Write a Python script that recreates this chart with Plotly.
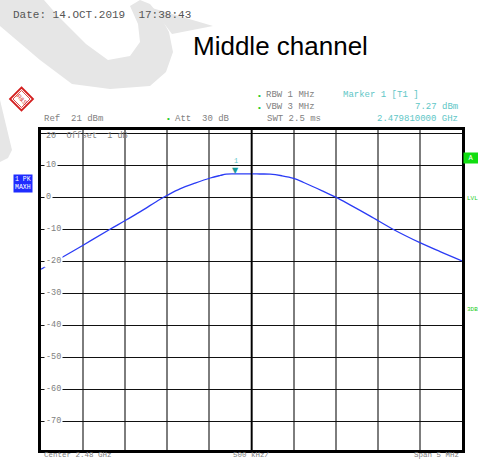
import plotly.graph_objects as go

# ---------------- data ----------------
freq_mhz = [2477.50, 2477.67, 2478.00, 2478.32, 2478.50, 2478.68, 2478.91, 2479.00,
            2479.15, 2479.33, 2479.51, 2479.63, 2479.70, 2479.81, 2480.00, 2480.10,
            2480.22, 2480.36, 2480.50, 2480.62, 2480.84, 2481.00, 2481.17, 2481.41,
            2481.68, 2482.00, 2482.24, 2482.50]
level_dbm = [-22.5, -20.0, -15.0, -10.0, -7.3, -4.5, -0.7, 0.6,
             2.6, 4.4, 6.0, 6.8, 7.2, 7.27, 7.27, 7.25,
             7.2, 6.7, 5.9, 4.6, 2.0, 0.0, -2.4, -5.9,
             -10.0, -14.2, -17.0, -19.9]
marker_freq = 2479.81
marker_level = 7.27
y_tick_vals = [20, 10, 0, -10, -20, -30, -40, -50, -60, -70]
y_tick_text = ["20", "10", "0", "-10", "-20", "-30", "-40", "-50", "-60", "-70"]
ref_level = 21
x_start, x_stop = 2477.5, 2482.5

# ---------------- layout helpers (pixel -> paper) ----------------
W, H = 478, 459
L, R, T, B = 41, 462, 130, 450


def px(x):
    return (x - L) / (R - L)


def py(y):
    return (B - y) / (B - T)


MONO = "Liberation Mono, Courier New, monospace"
GREY = "#808080"
CYAN = "#5ec6c6"
GREEN = "#22cc22"

fig = go.Figure()
fig.add_trace(go.Scatter(
    x=freq_mhz, y=level_dbm, mode="lines",
    line=dict(color="#2b3cf5", width=1.3, shape="spline", smoothing=1.0),
    hoverinfo="skip", showlegend=False))

annotations = []


def ann(text, x, y, size=9, color=GREY, xanchor="left", yanchor="middle",
        family=MONO, bgcolor=None, **kw):
    d = dict(text=text, x=px(x), y=py(y), xref="paper", yref="paper",
             showarrow=False, xanchor=xanchor, yanchor=yanchor,
             font=dict(size=size, color=color, family=family), **kw)
    if bgcolor:
        d["bgcolor"] = bgcolor
    annotations.append(d)


# header
ann("Date: 14.OCT.2019  17:38:43", 11, 15, size=11, color="#555555")
ann("Middle channel", 280, 46, size=26, color="#000000", xanchor="center",
    family="Liberation Sans, Arial, sans-serif")

ann("Ref  21 dBm", 42, 119)
ann("\u2022", 168, 119, size=8, color=GREEN, xanchor="center")
ann("Att  30 dB", 173, 119)
ann("\u2022", 259, 95, size=8, color=GREEN, xanchor="center")
ann("RBW 1 MHz", 264, 95)
ann("\u2022", 259, 107, size=8, color=GREEN, xanchor="center")
ann("VBW 3 MHz", 264, 107)
ann("SWT 2.5 ms", 265, 119)
ann("Marker 1 [T1 ]", 341, 95, color=CYAN)
ann("7.27 dBm", 460, 107, color=CYAN, xanchor="right")
ann("2.479810000 GHz", 460, 119, color=CYAN, xanchor="right")

# y labels inside the grid
for v, t in zip(y_tick_vals, y_tick_text):
    yy = T + (ref_level - v) * (B - T) / 100.0
    if v == 20:
        ann("20  Offset  1 dB", 44, yy + 3, size=8.5)
    else:
        ann(t, 44, yy, size=8.5, bgcolor="white")

# bottom labels
ann("Center 2.48 GHz", 42, 455, size=7.5)
ann("500 kHz/", 251.5, 455, size=7.5, xanchor="center")
ann("Span 5 MHz", 461, 455, size=7.5, xanchor="right")

# side boxes
ann("1 PK<br>MAXH", 22.5, 183, size=6.5, color="white", xanchor="center",
    bgcolor="#1f2cff", borderpad=1)
ann("A", 471, 157.5, size=7, color="white", xanchor="center", bgcolor="#11dd11",
    borderpad=1, width=12)
ann("LVL", 465, 198, size=6, color=GREEN)
ann("3DB", 465, 309, size=6, color=GREEN)

# R&S logo text
ann("R&S", 21.5, 99, size=6, color="#d42020", xanchor="center", textangle=45,
    family="Liberation Sans, Arial")

# marker
annotations.append(dict(text="\u25bc", x=marker_freq, y=marker_level, xref="x", yref="y",
                        showarrow=False, yanchor="bottom", yshift=-3,
                        font=dict(size=8, color="#159a9a", family="DejaVu Sans")))
annotations.append(dict(text="1", x=marker_freq, y=marker_level, xref="x", yref="y",
                        showarrow=False, yanchor="bottom", yshift=7,
                        font=dict(size=7, color=CYAN, family=MONO)))

# ---------------- shapes ----------------
shapes = []


def path_px(points, fill="#e6e6e6", line_w=0, line_c=None, layer="below", closed=True):
    s = "M " + " L ".join(f"{px(x):.5f},{py(y):.5f}" for x, y in points)
    if closed:
        s += " Z"
    d = dict(type="path", path=s, xref="paper", yref="paper", layer=layer,
             line=dict(width=line_w, color=line_c or "rgba(0,0,0,0)"))
    d["fillcolor"] = fill if fill else "rgba(0,0,0,0)"
    shapes.append(d)


# watermark (faint grey)
path_px([(0, 26), (40, 60), (72, 84), (110, 89), (150, 86), (166, 72), (173, 52),
         (169, 32), (160, 16), (150, 4), (140, 0), (130, 6), (138, 24), (140, 42),
         (130, 56), (108, 60), (86, 44), (58, 16), (44, 0), (0, 0)])
path_px([(152, 8), (213, 26), (172, 34)])
path_px([(0, 100), (12, 150), (8, 158), (0, 162)])

# R&S diamond
cx, cy, r = 21.5, 99, 11.5
path_px([(cx, cy - r), (cx + r, cy), (cx, cy + r), (cx - r, cy)], fill=None,
        line_w=1.8, line_c="#d42020", layer="above")
r2 = 8.5
path_px([(cx, cy - r2), (cx + r2, cy), (cx, cy + r2), (cx - r2, cy)], fill=None,
        line_w=0.8, line_c="#d42020", layer="above")

# center line (black) and double borders
shapes.append(dict(type="line", xref="x", yref="paper", x0=2480, x1=2480, y0=0, y1=1,
                   line=dict(color="black", width=1.6), layer="above"))
shapes.append(dict(type="line", xref="paper", yref="paper", x0=px(464), x1=px(464),
                   y0=0, y1=1, line=dict(color="black", width=1.2), layer="above"))

fig.update_layout(
    width=W, height=H, autosize=False,
    margin=dict(l=L, r=W - R, t=T, b=H - B),
    paper_bgcolor="white", plot_bgcolor="white",
    showlegend=False,
    annotations=annotations,
    shapes=shapes,
    xaxis=dict(range=[x_start, x_stop], tick0=x_start, dtick=0.5, showgrid=True,
               gridcolor="#7d7d7d", gridwidth=1.6, showticklabels=False, ticks="",
               zeroline=False, showline=True, linecolor="black", linewidth=2.5,
               mirror=True, fixedrange=True),
    yaxis=dict(range=[ref_level - 100, ref_level], tick0=-70, dtick=10, showgrid=True,
               gridcolor="#111111", gridwidth=1.2, showticklabels=False, ticks="",
               zeroline=False, showline=True, linecolor="black", linewidth=2.5,
               mirror=True, fixedrange=True),
)

fig.write_html("out.html", post_script="document.body.style.margin='0';",
               config={"displayModeBar": False})
